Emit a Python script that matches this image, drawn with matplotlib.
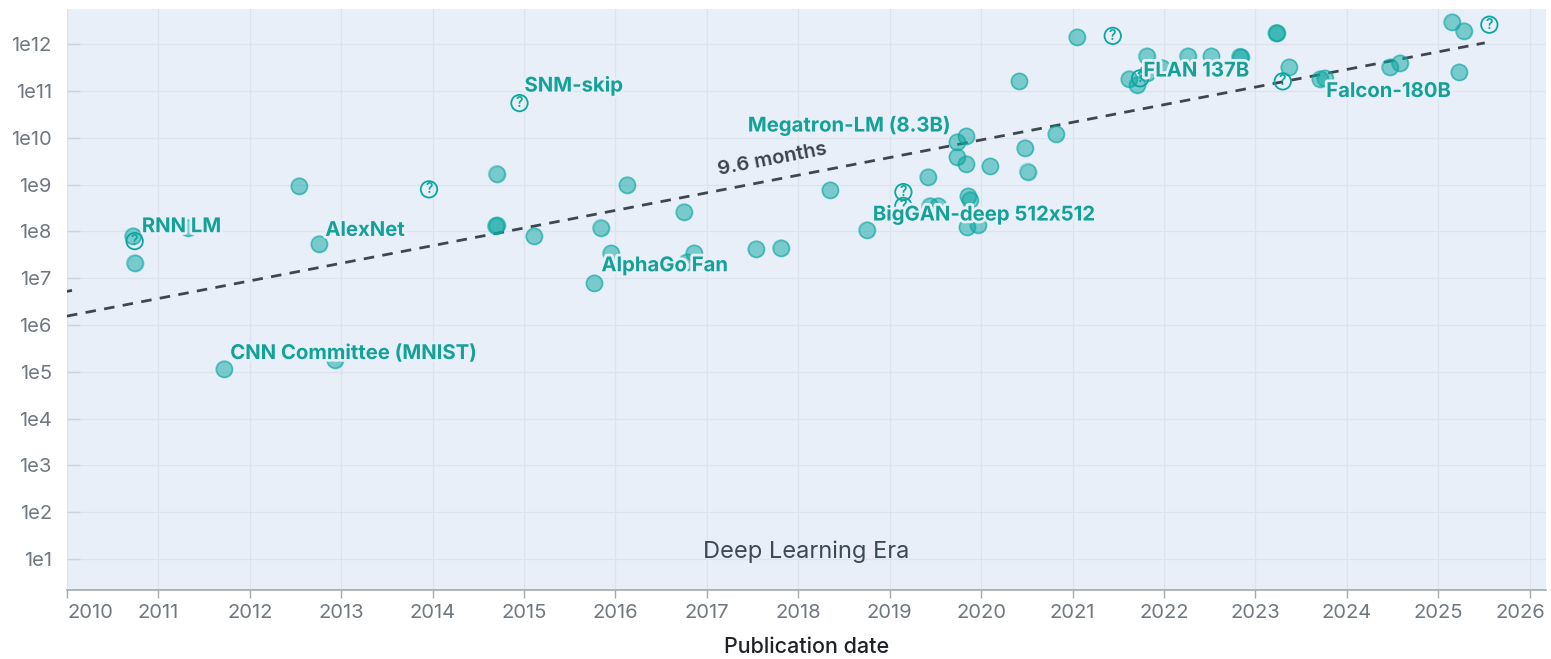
import math
import matplotlib
matplotlib.use("Agg")
import matplotlib.pyplot as plt
import matplotlib.patheffects as pe
from matplotlib.transforms import ScaledTranslation

plt.rcParams['font.family'] = ['Inter', 'DejaVu Sans']

# models with known parameter counts (publication date as decimal year, parameters)
known_dates = [2010.72, 2010.74, 2011.32, 2011.72, 2012.54, 2012.76, 2012.93, 2014.70, 2014.69, 2014.70,
               2015.11, 2015.84, 2015.95, 2015.77, 2016.13, 2016.75, 2016.86, 2016.78, 2017.54, 2017.81,
               2018.35, 2018.75, 2019.42, 2019.44, 2019.53, 2019.74, 2019.84, 2019.74, 2019.84, 2020.10,
               2019.86, 2019.88, 2019.85, 2019.97, 2020.42, 2020.82, 2020.48, 2020.51, 2021.05, 2021.81,
               2022.26, 2022.52, 2022.83, 2022.84, 2021.62, 2021.71, 2021.82, 2021.98, 2023.23, 2023.24,
               2023.37, 2023.71, 2023.76, 2024.47, 2024.58, 2025.15, 2025.28, 2025.23]
known_params = [7.9e7, 2.1e7, 1.2e8, 1.15e5, 9.3e8, 5.4e7, 1.8e5, 1.7e9, 1.3e8, 1.35e8,
                7.9e7, 1.2e8, 3.4e7, 7.8e6, 9.8e8, 2.6e8, 3.4e7, 2.2e7, 4.2e7, 4.4e7,
                7.6e8, 1.07e8, 1.45e9, 3.5e8, 3.5e8, 8.1e9, 1.07e10, 3.9e9, 2.75e9, 2.45e9,
                5.6e8, 4.7e8, 1.23e8, 1.4e8, 1.6e11, 1.2e10, 6.0e9, 1.9e9, 1.4e12, 5.5e11,
                5.5e11, 5.5e11, 5.4e11, 5.4e11, 1.8e11, 1.37e11, 2.4e11, 3.1e11, 1.74e12, 1.74e12,
                3.2e11, 1.8e11, 1.86e11, 3.2e11, 3.9e11, 2.95e12, 1.9e12, 2.5e11]

# models with estimated (uncertain) parameter counts
uncertain_dates = [2010.74, 2013.96, 2014.95, 2019.15, 2019.15, 2021.44, 2021.74, 2023.30, 2025.56]
uncertain_params = [6.2e7, 7.9e8, 5.5e10, 6.9e8, 3.5e8, 1.5e12, 1.86e11, 1.6e11, 2.6e12]

# labelled models
label_names = ['RNN LM', 'AlexNet', 'CNN Committee (MNIST)', 'SNM-skip', 'AlphaGo Fan',
               'Megatron-LM (8.3B)', 'BigGAN-deep 512x512', 'FLAN 137B', 'Falcon-180B']
label_dates = [2010.72, 2012.76, 2011.72, 2014.95, 2015.77, 2019.74, 2018.75, 2021.71, 2023.71]
label_params = [7.9e7, 5.4e7, 1.15e5, 5.5e10, 7.8e6, 8.1e9, 1.07e8, 1.37e11, 1.8e11]

# trend: doubling every 9.6 months
doubling_months = 9.6
trend_start, trend_end = 2010.0, 2025.51
trend_start_value = 1.55e6
prev_trend_value = 4.8e6

year_ticks = list(range(2010, 2027))
decade_ticks = [10 ** k for k in range(1, 13)]
decade_labels = ['1e%d' % k for k in range(1, 13)]

teal = '#0AA7A0'
label_color = '#13A198'
bg = '#E8EFF9'

fig = plt.figure(figsize=(15.51, 6.59), dpi=100)
ax = fig.add_axes([67 / 1551, 1 - 590 / 659, (1546 - 67) / 1551, (590 - 9) / 659])
ax.set_facecolor(bg)
ax.set_yscale('log')
ax.set_xlim(2010.0, 2026.18)
ax.set_ylim(10 ** 0.34, 10 ** 12.75)

ax.set_xticks(year_ticks, [str(y) for y in year_ticks])
ax.set_yticks(decade_ticks, decade_labels)
ax.minorticks_off()
ax.grid(True, color='#DCE3EC', linewidth=0.9)
ax.set_axisbelow(True)
for side in ['left', 'top', 'right']:
    ax.spines[side].set_visible(False)
ax.spines['bottom'].set_color('#A3A9AF')
ax.spines['bottom'].set_linewidth(1.2)
ax.tick_params(axis='x', direction='out', length=6, width=1, color='#A3A9AF',
               labelsize=14.5, labelcolor='#6F7880', pad=4)
ax.tick_params(axis='y', direction='in', length=9.5, width=1, color='#CDD3DA',
               labelsize=14.5, labelcolor='#6F7880', pad=11)

# first / last year label kept inside the plot
xl = ax.get_xticklabels()
xl[0].set_ha('left')
xl[-1].set_ha('right')
xl[-1].set_transform(xl[-1].get_transform() + ScaledTranslation(0.155, 0, fig.dpi_scale_trans))

# trend lines
rate = math.log10(2) / (doubling_months / 12)
tx = [trend_start, trend_end]
ty = [trend_start_value * 10 ** (rate * (x - trend_start)) for x in tx]
ax.plot(tx, ty, color='#3E4750', lw=2.0, dashes=(3.8, 3.0), zorder=3)
ax.plot([2009.9, 2010.04], [prev_trend_value, prev_trend_value * 10 ** (rate * 0.14)],
        color='#3E4750', lw=2.0, zorder=3)

# points
ax.scatter(known_dates, known_params, s=135, facecolor=teal, edgecolor=teal,
           alpha=0.5, linewidths=1.2, zorder=4)
ax.scatter(known_dates, known_params, s=135, facecolor='none', edgecolor=teal,
           alpha=0.35, linewidths=1.0, zorder=4)
ax.scatter(uncertain_dates, uncertain_params, s=140, facecolor='none', edgecolor=teal,
           linewidths=1.3, zorder=4)
for x, y in zip(uncertain_dates, uncertain_params):
    ax.text(x, y, '?', color=teal, fontsize=10, fontweight='semibold', ha='center',
            va='center', zorder=5)

# labels
halo = [pe.withStroke(linewidth=4, foreground=bg)]
offsets = [(9, 9, 'left'), (6, 13, 'left'), (6, 15, 'left'), (5, 17, 'left'), (7, 17, 'left'),
           (-7, 16, 'right'), (6, 15, 'left'), (6, 13, 'left'), (6, -13, 'left')]
for name, x, y, (dx, dy, ha) in zip(label_names, label_dates, label_params, offsets):
    ax.annotate(name, (x, y), xytext=(dx, dy), textcoords='offset pixels', ha=ha, va='center',
                color=label_color, fontsize=14.6, fontweight='bold', path_effects=halo, zorder=6)

# trend annotation
mx = 2017.72
my = trend_start_value * 10 ** (rate * (mx - trend_start))
p1 = ax.transData.transform((tx[0], ty[0]))
p2 = ax.transData.transform((tx[1], ty[1]))
angle = math.degrees(math.atan2(p2[1] - p1[1], p2[0] - p1[0]))
ax.annotate('9.6 months', (mx, my), xytext=(0, 20), textcoords='offset pixels', rotation=angle,
            rotation_mode='anchor', ha='center', va='center', color='#3A434C', fontsize=14.5,
            fontweight='semibold', zorder=6)

ax.text(0.5, 0.066, 'Deep Learning Era', transform=ax.transAxes, ha='center', va='center',
        fontsize=17, color='#3C4A56')

ax.set_xlabel('Publication date', fontsize=15.5, color='#1F2328', fontweight='medium')
ax.xaxis.set_label_coords(0.5, -0.098)
ax.xaxis.label.set_va('center')

fig.savefig('out.png', dpi=100, facecolor='white')
